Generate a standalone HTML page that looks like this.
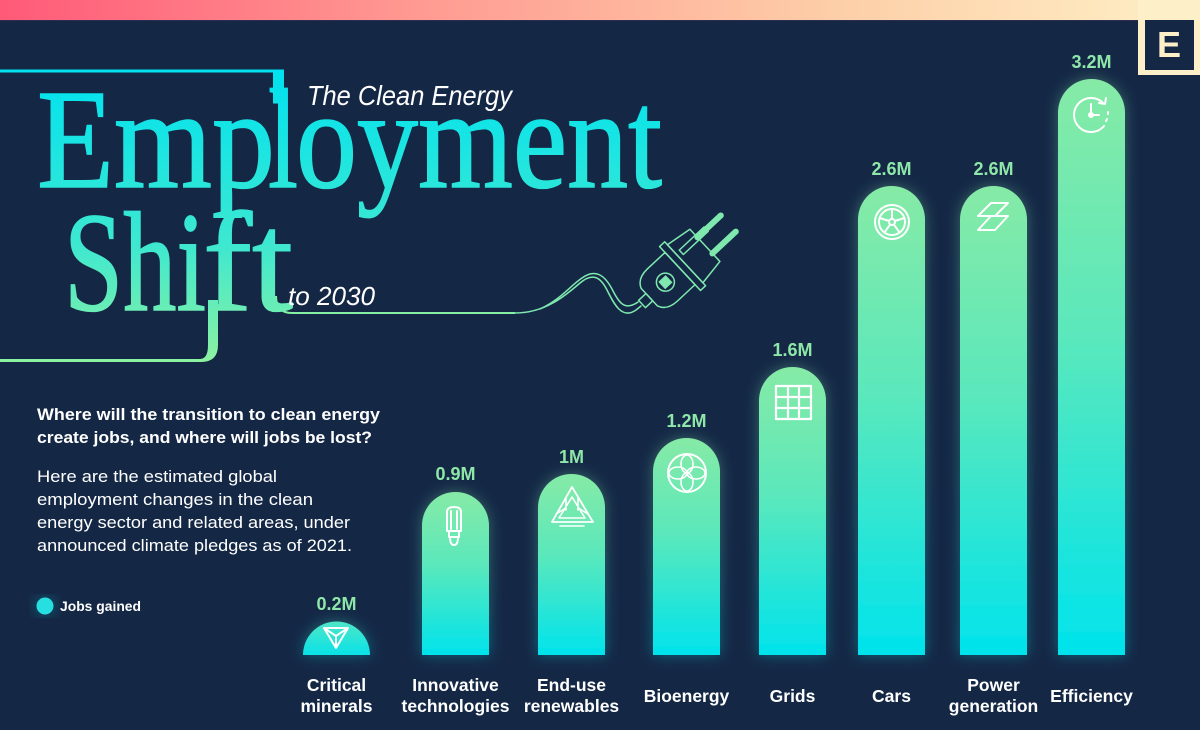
<!DOCTYPE html>
<html>
<head>
<meta charset="utf-8">
<style>
  html, body { margin: 0; padding: 0; background: #142846; }
  body { width: 1200px; height: 730px; overflow: hidden; }
  svg { display: block; }
  .sans { font-family: "Liberation Sans", "DejaVu Sans", sans-serif; }
  .serif { font-family: "Liberation Serif", "DejaVu Serif", serif; }
</style>
</head>
<body>
<svg width="1200" height="730" viewBox="0 0 1200 730" xmlns="http://www.w3.org/2000/svg">
  <defs>
    <linearGradient id="band" x1="0" y1="0" x2="1" y2="0">
      <stop offset="0" stop-color="#ff5a78"/>
      <stop offset="0.35" stop-color="#ff9a92"/>
      <stop offset="0.7" stop-color="#fdcfa8"/>
      <stop offset="1" stop-color="#fef0c6"/>
    </linearGradient>
    <linearGradient id="tg" gradientUnits="userSpaceOnUse" x1="0" y1="70" x2="0" y2="362">
      <stop offset="0" stop-color="#00e2f0"/>
      <stop offset="0.6" stop-color="#3ee8d0"/>
      <stop offset="1" stop-color="#8cf2a0"/>
    </linearGradient>
    <linearGradient id="bar" x1="0" y1="0" x2="0" y2="1">
      <stop offset="0" stop-color="#86eaa6"/>
      <stop offset="0.45" stop-color="#5ae8bc"/>
      <stop offset="1" stop-color="#00e3ec"/>
    </linearGradient>
    <linearGradient id="barShort" x1="0" y1="0" x2="0" y2="1">
      <stop offset="0" stop-color="#4fe6c6"/>
      <stop offset="1" stop-color="#08e2e8"/>
    </linearGradient>
    <filter id="glow" x="-40%" y="-20%" width="180%" height="140%">
      <feGaussianBlur in="SourceGraphic" stdDeviation="7" result="b"/>
      <feComponentTransfer in="b" result="b2">
        <feFuncA type="linear" slope="0.35"/>
      </feComponentTransfer>
      <feMerge>
        <feMergeNode in="b2"/>
        <feMergeNode in="SourceGraphic"/>
      </feMerge>
    </filter>
  </defs>

  <!-- background -->
  <rect width="1200" height="730" fill="#142846"/>
  <!-- top band -->
  <rect x="0" y="0" width="1200" height="20" fill="url(#band)"/>
  <rect x="0" y="20" width="1138" height="1" fill="#3a2f55" opacity="0.6"/>

  <!-- E logo -->
  <rect x="1138" y="0" width="62" height="75" fill="#fdf0c8"/>
  <rect x="1145" y="20" width="49" height="50" fill="#142846"/>
  <text x="1169" y="57" text-anchor="middle" class="sans" font-weight="700" font-size="36" fill="#fdf0c8">E</text>

  <!-- Title frame -->
  <rect x="0" y="69.5" width="284" height="3" fill="url(#tg)"/>
  <rect x="273" y="69.5" width="11" height="34" fill="url(#tg)"/>
  <path d="M208,300 L218,300 L218,345 Q218,362 201,362 L0,362 L0,359 L200,359 Q208,359 208,345 Z" fill="url(#tg)"/>
  <path d="M276,296 Q276,313 292,313 L515,313" stroke="#86f0a4" stroke-width="2" fill="none"/>

  <!-- Title text -->
  <text x="307" y="105" class="sans" font-style="italic" font-size="28" fill="#ffffff" textLength="205" lengthAdjust="spacingAndGlyphs">The Clean Energy</text>
  <g class="serif" font-size="142" fill="url(#tg)" stroke="url(#tg)" stroke-width="1.6">
    <text x="37" y="187" textLength="238" lengthAdjust="spacingAndGlyphs">Emp</text>
    <text x="268" y="187" textLength="30" lengthAdjust="spacingAndGlyphs">l</text>
    <text x="296" y="187" textLength="366" lengthAdjust="spacingAndGlyphs">oyment</text>
    <text x="64" y="310" textLength="142" lengthAdjust="spacingAndGlyphs">Shi</text>
    <text x="203" y="310" textLength="90" lengthAdjust="spacingAndGlyphs">ft</text>
  </g>
  <text x="288" y="305" class="sans" font-style="italic" font-size="26" fill="#ffffff" textLength="87" lengthAdjust="spacingAndGlyphs">to 2030</text>

  <!-- cable + plug -->
  <g stroke="#7fe8ae" stroke-width="1.5" fill="none" stroke-linecap="round" stroke-linejoin="round">
    <path d="M515,313 C545,313 565,296 580,283 C592,273 600,276 607,290 C614,304 622,320 636,310 L641,306"/>
    <path d="M540,309 C560,300 570,286 582,278 C596,268 605,276 612,289 C618,301 624,312 638,302"/>
    <g transform="translate(642,304) rotate(-43)">
      <rect x="0" y="-5" width="10" height="10"/>
      <path d="M10,-12 Q14,-22 28,-22 L52,-22 L52,22 L28,22 Q14,22 10,12 Z"/>
      <circle cx="32" cy="0" r="9"/>
      <rect x="27" y="-5" width="10" height="10" fill="#7fe8ae" stroke="none"/>
      <rect x="52" y="-30" width="7" height="60"/>
      <path d="M59,-26 L86,-22 L86,22 L59,26 Z"/>
      <line x1="86" y1="-11" x2="118" y2="-11" stroke-width="6"/>
      <line x1="86" y1="11" x2="118" y2="11" stroke-width="6"/>
      <rect x="64" y="-14" width="34" height="6"/>
    </g>
  </g>

  <!-- Intro text -->
  <g class="sans" fill="#ffffff">
    <text x="37" y="420" font-size="17" font-weight="700" textLength="343" lengthAdjust="spacingAndGlyphs">Where will the transition to clean energy</text>
    <text x="37" y="443" font-size="17" font-weight="700" textLength="335" lengthAdjust="spacingAndGlyphs">create jobs, and where will jobs be lost?</text>
    <text x="37" y="482" font-size="17" textLength="240" lengthAdjust="spacingAndGlyphs">Here are the estimated global</text>
    <text x="37" y="505" font-size="17" textLength="276" lengthAdjust="spacingAndGlyphs">employment changes in the clean</text>
    <text x="37" y="528" font-size="17" textLength="313" lengthAdjust="spacingAndGlyphs">energy sector and related areas, under</text>
    <text x="37" y="551" font-size="17" textLength="315" lengthAdjust="spacingAndGlyphs">announced climate pledges as of 2021.</text>
  </g>

  <!-- legend -->
  <circle cx="45" cy="606" r="8.5" fill="#27dfe0" filter="url(#glow)"/>
  <text x="60" y="611" class="sans" font-size="14" font-weight="700" fill="#ffffff" textLength="81" lengthAdjust="spacingAndGlyphs">Jobs gained</text>

  <!-- bars -->
  <g filter="url(#glow)">
    <path d="M303,655 A33.5,33.5 0 0,1 370,655 Z" fill="url(#barShort)"/>
    <path d="M422,655 L422,525.5 A33.5,33.5 0 0,1 489,525.5 L489,655 Z" fill="url(#bar)"/>
    <path d="M538,655 L538,507.5 A33.5,33.5 0 0,1 605,507.5 L605,655 Z" fill="url(#bar)"/>
    <path d="M653,655 L653,471.5 A33.5,33.5 0 0,1 720,471.5 L720,655 Z" fill="url(#bar)"/>
    <path d="M759,655 L759,400.5 A33.5,33.5 0 0,1 826,400.5 L826,655 Z" fill="url(#bar)"/>
    <path d="M858,655 L858,219.5 A33.5,33.5 0 0,1 925,219.5 L925,655 Z" fill="url(#bar)"/>
    <path d="M960,655 L960,219.5 A33.5,33.5 0 0,1 1027,219.5 L1027,655 Z" fill="url(#bar)"/>
    <path d="M1058,655 L1058,112.5 A33.5,33.5 0 0,1 1125,112.5 L1125,655 Z" fill="url(#bar)"/>
  </g>

  <!-- icons -->
  <g stroke="#ffffff" stroke-width="2" fill="none" stroke-linecap="round" stroke-linejoin="round">
    <!-- critical minerals -->
    <path d="M324,628 L348,628 L336,648 Z M336,648 L336,636 L324,628 M336,636 L348,628"/>
    <!-- bulb -->
    <path d="M447,531 L447,512 Q447,507 454,507 Q461,507 461,512 L461,531 Z"/>
    <path d="M451,511 L451,529 M457,511 L457,529"/>
    <path d="M449,531 L449,537 L459,537 L459,531 M450,537 Q450,545 454,545 Q458,545 458,537"/>
    <!-- end-use renewables -->
    <path d="M572,487 L593,522 L552,522 Z" stroke-width="1.8"/>
    <path d="M572,497 L585,518 L559,518 Z" stroke-width="1.6"/>
    <path d="M566,497 L566,510 M578,497 L578,510 M556,514 L566,508 M588,514 L578,508 M560,526 L584,526" stroke-width="1.6"/>
    <!-- bioenergy -->
    <circle cx="687" cy="473" r="19"/>
    <ellipse cx="687" cy="464" rx="6" ry="9" stroke-width="1.6"/>
    <ellipse cx="687" cy="482" rx="6" ry="9" stroke-width="1.6"/>
    <ellipse cx="678" cy="473" rx="9" ry="6" stroke-width="1.6"/>
    <ellipse cx="696" cy="473" rx="9" ry="6" stroke-width="1.6"/>
    <!-- grid -->
    <rect x="776" y="386" width="35" height="33" stroke-width="2.2"/>
    <path d="M788,386 L788,419 M799,386 L799,419 M776,397 L811,397 M776,408 L811,408" stroke-width="2.2"/>
    <!-- wheel -->
    <circle cx="892" cy="222" r="17"/>
    <circle cx="892" cy="222" r="13"/>
    <circle cx="892" cy="222" r="3"/>
    <path d="M892,219 L892,209 M894.8,221 L904.4,218 M893.8,224.4 L899.6,232.5 M890.2,224.4 L884.4,232.5 M889.2,221 L879.6,218"/>
    <!-- power -->
    <path d="M991,203 L1008,203 L995,216 L978,216 Z"/>
    <path d="M991,216 L1008,216 L995,230 L978,230 Z"/>
    <!-- clock -->
    <path d="M1104,104 A17,17 0 1,0 1104,126"/>
    <path d="M1099,103 L1105,104 L1106,98"/>
    <path d="M1108,112 L1108,114 M1107,119 L1106,121"/>
    <path d="M1091,104 L1091,115 L1099,115"/>
    <circle cx="1091" cy="115" r="2" fill="#ffffff"/>
  </g>

  <!-- value labels -->
  <g class="sans" font-size="18" font-weight="700" fill="#8ee6a8" text-anchor="middle">
    <text x="336.5" y="610">0.2M</text>
    <text x="455.5" y="480">0.9M</text>
    <text x="571.5" y="463">1M</text>
    <text x="686.5" y="427">1.2M</text>
    <text x="792.5" y="356">1.6M</text>
    <text x="891.5" y="175">2.6M</text>
    <text x="993.5" y="175">2.6M</text>
    <text x="1091.5" y="68">3.2M</text>
  </g>

  <!-- category labels -->
  <g class="sans" font-size="17.5" font-weight="700" fill="#ffffff" text-anchor="middle">
    <text x="336.5" y="691">Critical</text>
    <text x="336.5" y="712">minerals</text>
    <text x="455.5" y="691">Innovative</text>
    <text x="455.5" y="712">technologies</text>
    <text x="571.5" y="691">End-use</text>
    <text x="571.5" y="712">renewables</text>
    <text x="686.5" y="702">Bioenergy</text>
    <text x="792.5" y="702">Grids</text>
    <text x="891.5" y="702">Cars</text>
    <text x="993.5" y="691">Power</text>
    <text x="993.5" y="712">generation</text>
    <text x="1091.5" y="702">Efficiency</text>
  </g>
</svg>
</body>
</html>
